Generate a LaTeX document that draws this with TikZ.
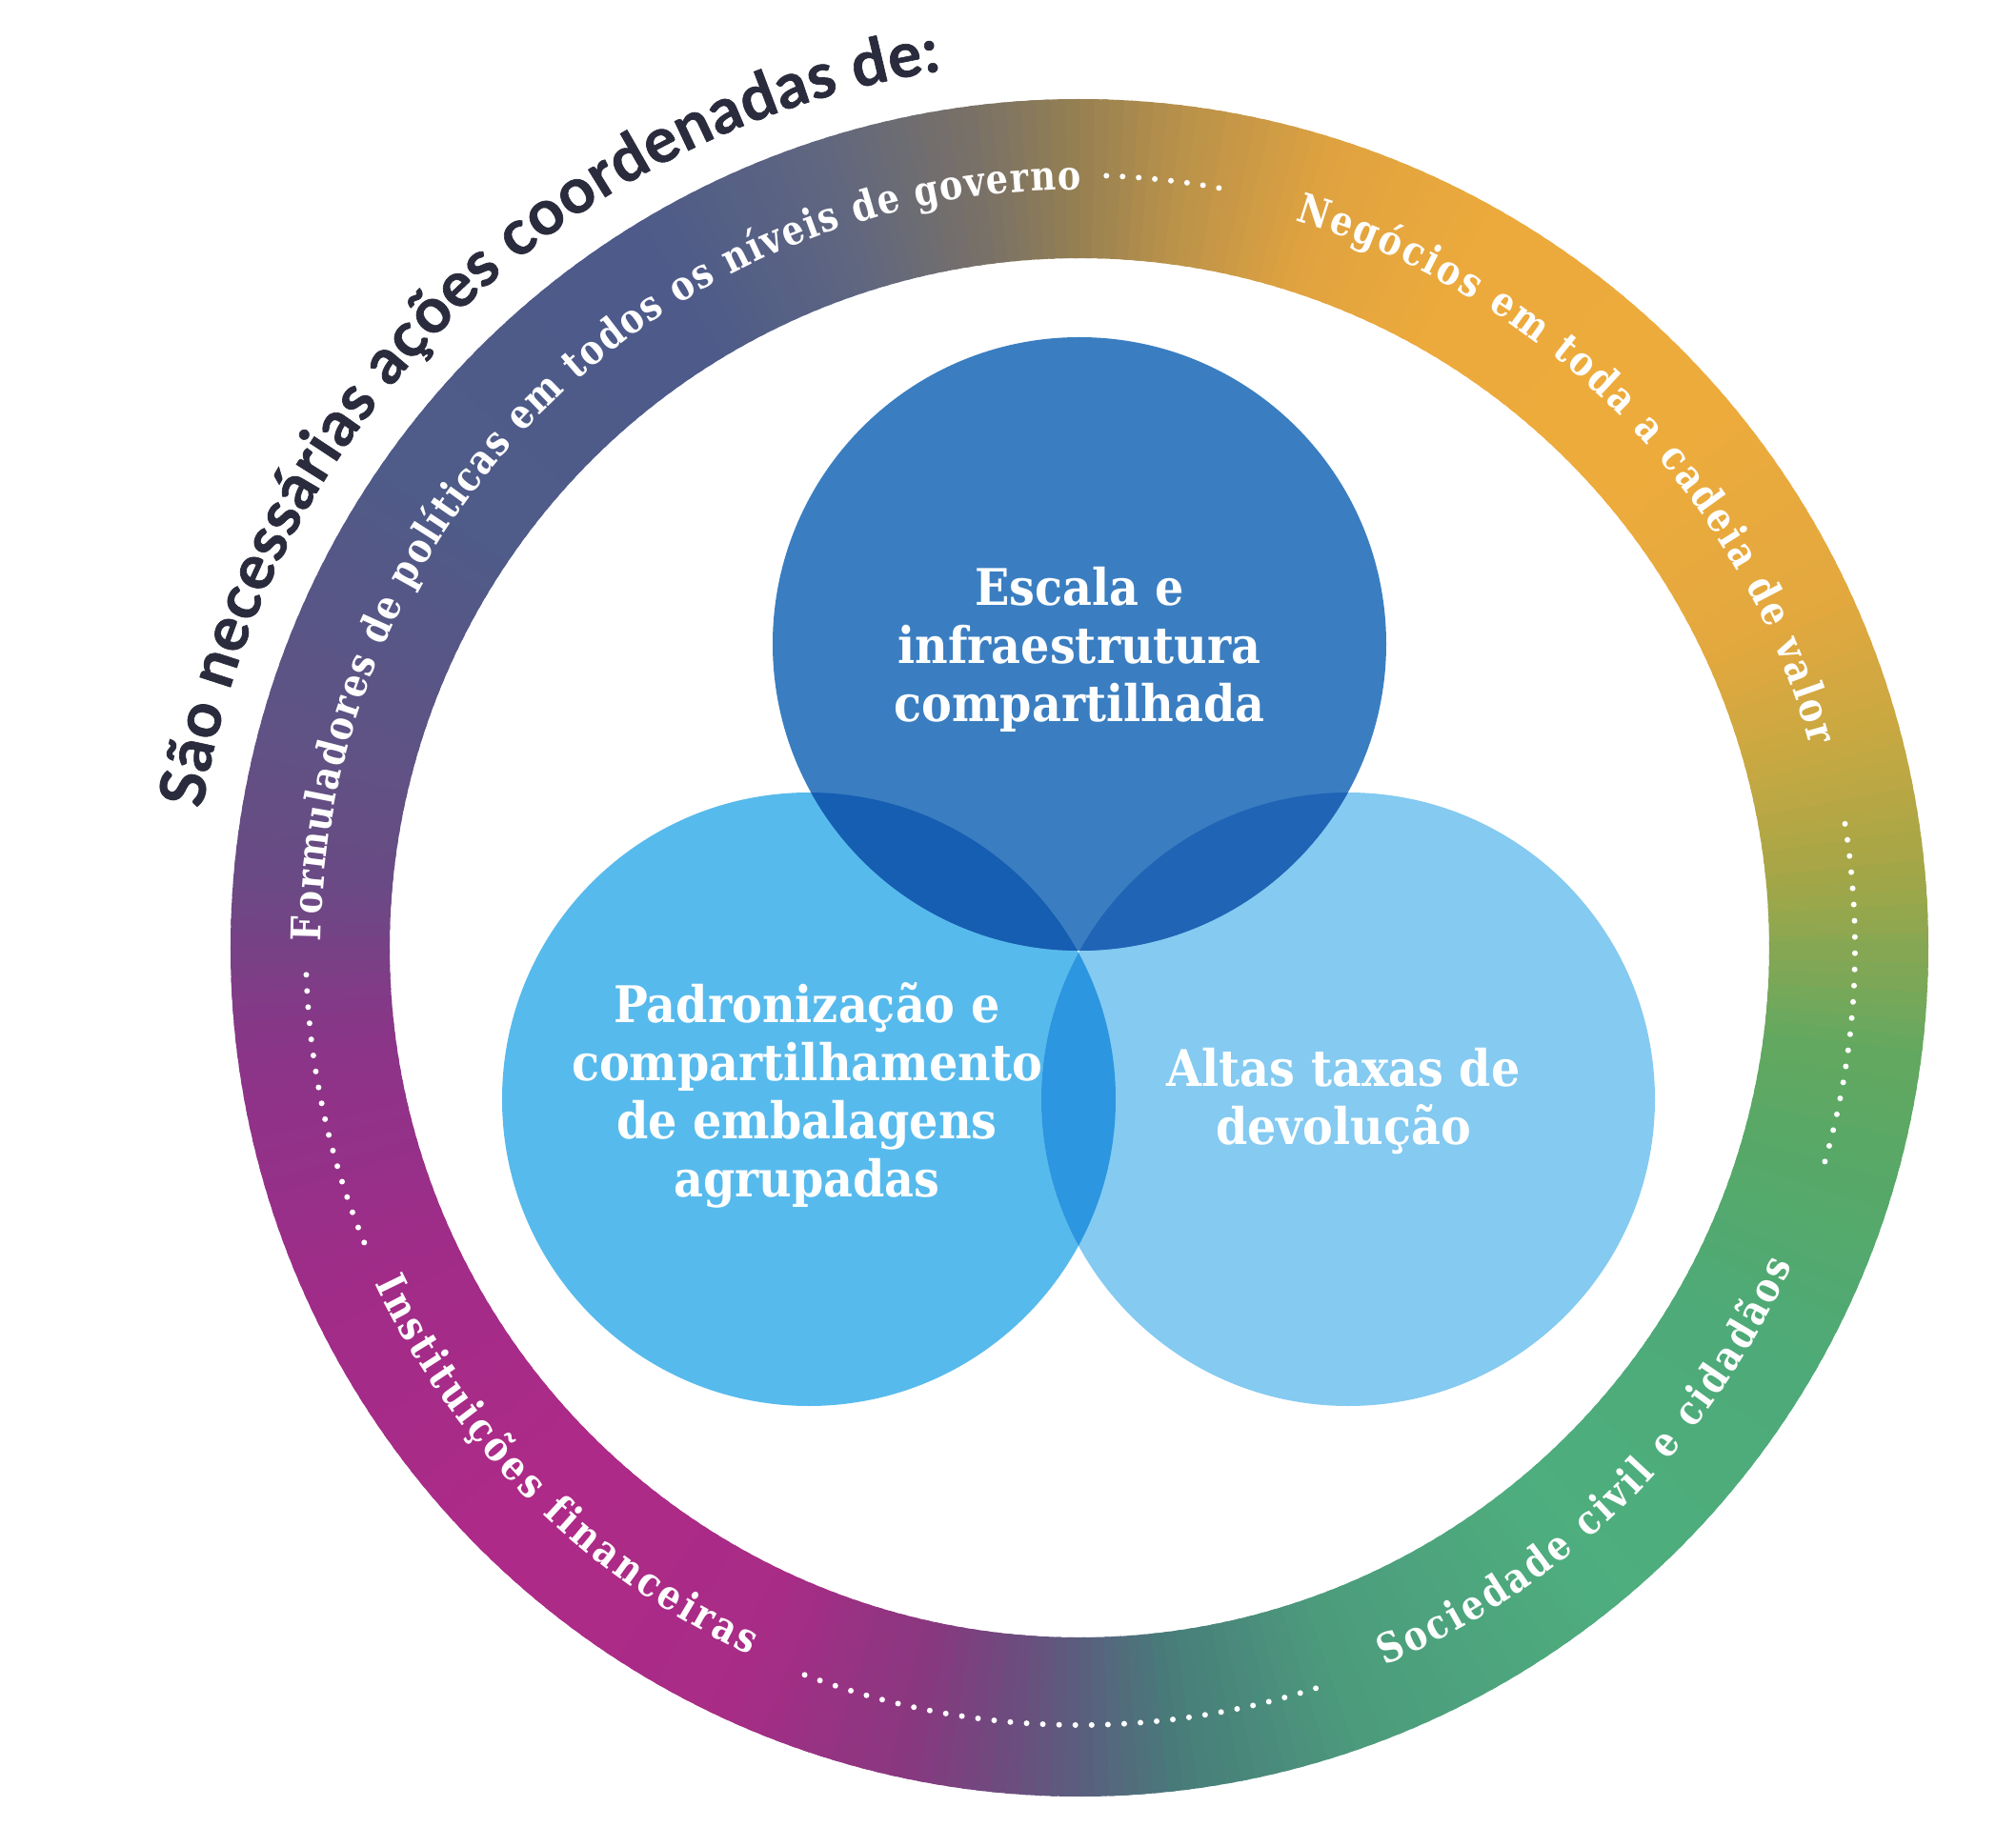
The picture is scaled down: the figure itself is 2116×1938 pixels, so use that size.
\documentclass[tikz,border=0pt]{standalone}
\usepackage{fontspec}
\usetikzlibrary{decorations.text}
\newfontfamily\slabfont{DejaVu Serif}[FakeStretch=0.9]
\newfontfamily\ringfnt{DejaVu Serif}[FakeStretch=0.85]
\newfontfamily\titlefnt{Lato}[BoldFeatures={FakeBold=1}]
\newcommand\lblfmt{\slabfont\bfseries\fontsize{53}{61}\selectfont}
\newcommand\ringfmt{\ringfnt\bfseries\fontsize{43}{50}\selectfont}
\newcommand\titlefmt{\titlefnt\bfseries\fontsize{66}{72}\selectfont}
\definecolor{cT}{HTML}{3A7EC1}
\definecolor{cL}{HTML}{57BAEC}
\definecolor{cR}{HTML}{84CAF1}
\definecolor{cTL}{HTML}{165EB2}
\definecolor{cTR}{HTML}{1F64B5}
\definecolor{cLR}{HTML}{2C96E0}
\definecolor{titlecol}{HTML}{2A2B3C}
% ring colour stops (angle in degrees, counter-clockwise from east)
\definecolor{s0}{HTML}{88A752}
\definecolor{s6}{HTML}{A6A646}
\definecolor{s15}{HTML}{C8A842}
\definecolor{s25}{HTML}{E3A83E}
\definecolor{s40}{HTML}{EDAB3C}
\definecolor{s60}{HTML}{EDAA3C}
\definecolor{s72}{HTML}{E0A340}
\definecolor{s83}{HTML}{B8914A}
\definecolor{s90}{HTML}{968052}
\definecolor{s97}{HTML}{7A7266}
\definecolor{s108}{HTML}{5F6680}
\definecolor{s122}{HTML}{4D5A8A}
\definecolor{s145}{HTML}{4F5B88}
\definecolor{s165}{HTML}{5F5284}
\definecolor{s175}{HTML}{6A4A84}
\definecolor{s187}{HTML}{8A3588}
\definecolor{s205}{HTML}{A02C88}
\definecolor{s225}{HTML}{AE2A88}
\definecolor{s245}{HTML}{A82C86}
\definecolor{s258}{HTML}{88387F}
\definecolor{s263}{HTML}{74467F}
\definecolor{s270}{HTML}{5A5E7E}
\definecolor{s277}{HTML}{487C7A}
\definecolor{s290}{HTML}{4C9C7C}
\definecolor{s310}{HTML}{4EAE7E}
\definecolor{s330}{HTML}{4EAA78}
\definecolor{s345}{HTML}{58A866}
\definecolor{s353}{HTML}{64A860}
\newcommand\ringseg[4]{%
  \pgfmathtruncatemacro\segn{#3-#1-1}%
  \foreach \k in {0,...,\segn}{%
    \pgfmathsetmacro\tA{#1+\k}%
    \pgfmathsetmacro\tB{#1+\k+1.5}%
    \pgfmathtruncatemacro\pp{100*(\k+0.5)/(#3-#1)}%
    \fill[#4!\pp!#2] (\tA:724) arc[start angle=\tA,end angle=\tB,radius=724]
      -- (\tB:891) arc[start angle=\tB,end angle=\tA,radius=891] -- cycle;
  }}
\tikzset{
  lbl/.style={font=\lblfmt, text=white, align=center, inner sep=0pt},
  ringdot/.style={fill=white},
}
\begin{document}
\begin{tikzpicture}[x=1pt,y=1pt]
\fill[white] (-1133,-943) rectangle (983,995);
\useasboundingbox (-1133,-943) rectangle (983,995);
% gradient ring
\ringseg{0}{s0}{6}{s6}
\ringseg{6}{s6}{15}{s15}
\ringseg{15}{s15}{25}{s25}
\ringseg{25}{s25}{40}{s40}
\ringseg{40}{s40}{60}{s60}
\ringseg{60}{s60}{72}{s72}
\ringseg{72}{s72}{83}{s83}
\ringseg{83}{s83}{90}{s90}
\ringseg{90}{s90}{97}{s97}
\ringseg{97}{s97}{108}{s108}
\ringseg{108}{s108}{122}{s122}
\ringseg{122}{s122}{145}{s145}
\ringseg{145}{s145}{165}{s165}
\ringseg{165}{s165}{175}{s175}
\ringseg{175}{s175}{187}{s187}
\ringseg{187}{s187}{205}{s205}
\ringseg{205}{s205}{225}{s225}
\ringseg{225}{s225}{245}{s245}
\ringseg{245}{s245}{258}{s258}
\ringseg{258}{s258}{263}{s263}
\ringseg{263}{s263}{270}{s270}
\ringseg{270}{s270}{277}{s277}
\ringseg{277}{s277}{290}{s290}
\ringseg{290}{s290}{310}{s310}
\ringseg{310}{s310}{330}{s330}
\ringseg{330}{s330}{345}{s345}
\ringseg{345}{s345}{353}{s353}
\ringseg{353}{s353}{360}{s0}
% dotted separators
\foreach \k in {0,...,7} \fill[ringdot] ({88-\k*1.2}:811) circle[radius=3];
\foreach \k in {0,...,21} \fill[ringdot] ({9.2-\k*1.2}:814) circle[radius=3];
\foreach \k in {0,...,32} \fill[ringdot] ({249.3+\k*1.2}:816) circle[radius=3];
\foreach \k in {0,...,17} \fill[ringdot] ({182+\k*1.2}:812) circle[radius=3];
% ring texts
\path[decorate, decoration={text along path, text color=white, text align={fit to path},
  text={|\ringfmt|Formuladores de políticas em todos os níveis de governo}}]
  (179.5:796) arc[start angle=179.5, end angle=90, radius=796];
\path[decorate, decoration={text along path, text color=white, text align={fit to path},
  text={|\ringfmt|Negócios em toda a cadeia de valor}}]
  (73.5:796) arc[start angle=73.5, end angle=15.5, radius=796];
\path[decorate, decoration={text along path, text color=white, text align={fit to path},
  text={|\ringfmt|Sociedade civil e cidadãos}}]
  (-67:819) arc[start angle=-67, end angle=-24, radius=819];
\path[decorate, decoration={text along path, text color=white, text align={fit to path},
  text={|\ringfmt|Instituições financeiras}}]
  (205.5:819) arc[start angle=205.5, end angle=245, radius=819];
% title
\path[decorate, decoration={text along path, text color=titlecol, text align={fit to path},
  text={|\titlefmt|São necessárias ações coordenadas de:}}]
  (171:932) arc[start angle=171, end angle=99, radius=932];
% circles
\coordinate (T) at (0,319);
\coordinate (L) at (-284,-159);
\coordinate (R) at (282,-159);
\fill[cL] (L) circle[radius=322];
\fill[cR] (R) circle[radius=322];
\begin{scope}
  \clip (L) circle[radius=322];
  \fill[cLR] (R) circle[radius=322];
\end{scope}
\fill[cT] (T) circle[radius=322];
\begin{scope}
  \clip (T) circle[radius=322];
  \fill[cTL] (L) circle[radius=322];
  \fill[cTR] (R) circle[radius=322];
  \clip (L) circle[radius=322];
  \fill[cT] (R) circle[radius=322];
\end{scope}
% labels
\node[lbl] (escala) at (0,313) {Escala e\\infraestrutura\\compartilhada};
\node[lbl] (padron) at (-286,-155) {Padronização e\\compartilhamento\\de embalagens\\agrupadas};
\node[lbl] (altas) at (277,-161) {Altas taxas de\\devolução};
\end{tikzpicture}
\end{document}
